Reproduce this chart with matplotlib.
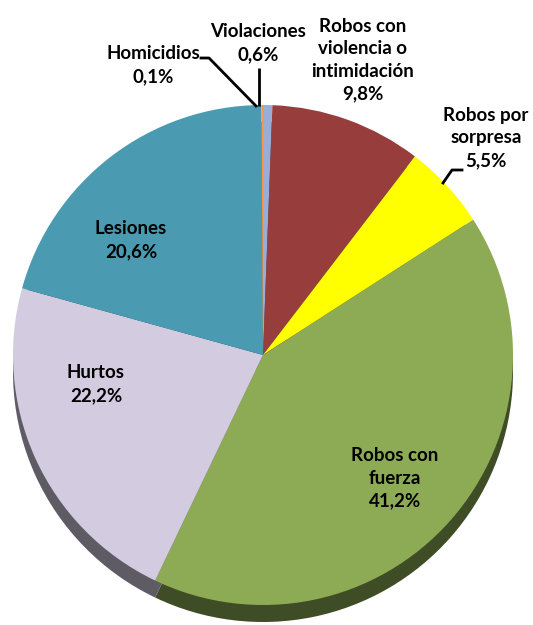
import matplotlib
matplotlib.use("Agg")
import matplotlib.pyplot as plt
from matplotlib.colors import to_rgb

categories = ["Violaciones", "Robos con\nviolencia o\nintimidación", "Robos por\nsorpresa",
              "Robos con\nfuerza", "Hurtos", "Lesiones", "Homicidios"]
values = [0.6, 9.8, 5.5, 41.2, 22.2, 20.6, 0.1]
value_labels = ["0,6%", "9,8%", "5,5%", "41,2%", "22,2%", "20,6%", "0,1%"]
colors = ["#98AED8", "#973D3B", "#FFFF00", "#8DAA55", "#D3CBE0", "#4A9BB1", "#F79646"]

W, H = 533, 625
fig = plt.figure(figsize=(W / 100, H / 100), dpi=100)
ax = fig.add_axes([0, 0, 1, 1])

def Y(py):
    return H - py

cx, cy, r = 263, Y(355), 250
depth = 17

def darken(c, f):
    rr, gg, bb = to_rgb(c)
    return (rr * f, gg * f, bb * f)

# depth (side) layer
ax.pie(values, colors=[darken(c, 0.45) for c in colors], startangle=90, counterclock=False,
       center=(cx, cy - depth), radius=r, wedgeprops=dict(linewidth=0), frame=True)
# top face
ax.pie(values, colors=colors, startangle=90, counterclock=False,
       center=(cx, cy), radius=r, wedgeprops=dict(linewidth=0), frame=True)
ax.set_xlim(0, W)
ax.set_ylim(0, H)
ax.axis("off")

font = dict(family=["Lato", "DejaVu Sans"], fontweight="bold", fontsize=13.5, color="black",
            ha="center", va="center", linespacing=1.4)

label_pos = {
    0: (258, 43),
    1: (363, 60),
    2: (486, 138),
    3: (395, 478),
    4: (96, 384),
    5: (131, 240),
    6: (153, 65),
}
for i, (px, py) in label_pos.items():
    ax.text(px, Y(py), categories[i] + "\n" + value_labels[i], **font)

# leader lines
ax.plot([259, 259], [Y(68), Y(106)], color="black", lw=2, solid_capstyle="butt")
ax.plot([201, 209, 256], [Y(58), Y(58), Y(106)], color="black", lw=2)
ax.plot([443, 452, 462], [Y(183), Y(170), Y(170)], color="black", lw=2)

fig.savefig("out.png", dpi=100)
